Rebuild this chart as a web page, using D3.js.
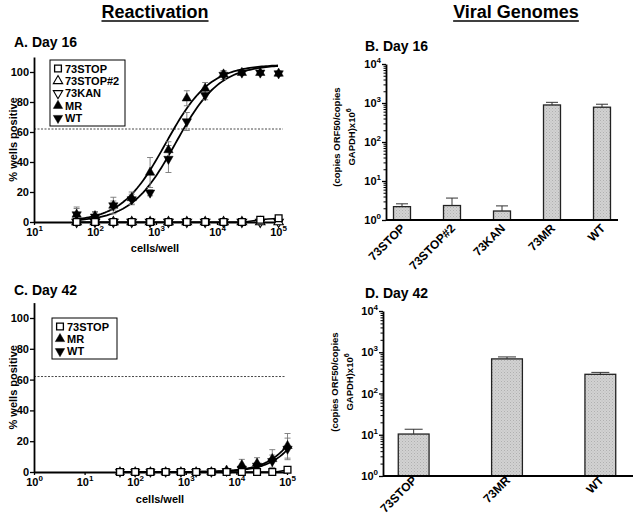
<!DOCTYPE html>
<html><head><meta charset="utf-8">
<script src="https://cdn.jsdelivr.net/npm/d3@7"></script>
<style>body{margin:0;background:#fff}svg{display:block}</style></head>
<body><svg id="c" width="634" height="517"></svg>
<script>
// ---------- data ----------
const cellsPerWell = [50,100,200,400,800,1600,3200,6400,12800,25600,51200,102400];
// Panel A (Day 16 reactivation, % wells positive)
const a73STOP  = [0,0,0,0,0,0,0,0,0,0,1.5,2.5];
const a73STOP2 = [0,0,0,0,0,0,0,0,0,0,0,0];
const a73KAN   = [0,0,0,0,0,0,0,0,0,0,0,0];
const aMR      = [5,4,11,16,33,48,82.5,89,98.5,99.5,99.5,99];
const aMRerr   = [5,3,5.5,4,10,5.5,5,4,2,1,1,1.5];
const aWT      = [5,3.5,11,15,19.5,42,67,84.5,98,99.5,99.5,99];
const aWTerr   = [4,3,3,3.5,2,9,6,3,3,1,1,1.5];
// fitted sigmoid parameters [top, logEC50, hill slope]
const fitA_MR = [105,3.16,1.2];
const fitA_WT = [105,3.32,1.2];
// Panel C (Day 42 reactivation)
const c73STOP = [0,0,0,0,0,0,0,0,0,0,0,1.5];
const cMR     = [0,0,0,0,0,0,0,1,4.5,5.6,8.5,17];
const cMRerr  = [0,0,0,0,0,0,0,1,3.7,3.7,6,8];
const cWT     = [0,0,0,0,0,0,0,0.5,2,4,7,15];
const cWTerr  = [0,0,0,0,0,0,0,0.5,2,2,4,7];
const fitC_MR = [105,5.59,1.2];
const fitC_WT = [105,5.67,1.2];
const thresholdPct = 62;
// Panel B (Day 16 viral genomes)
const bCats = ["73STOP","73STOP#2","73KAN","73MR","WT"];
const bVals = [2.2,2.35,1.7,890,780];
const bErr  = [0.4,1.3,0.6,150,150];
// Panel D (Day 42 viral genomes)
const dCats = ["73STOP","73MR","WT"];
const dVals = [10.4,690,292];
const dErr  = [3.2,80,33];
// ticks
const pctTicks = [0,20,40,60,80,100];
const xTicksA = [10,100,1000,10000,100000];
const xTicksC = [1,10,100,1000,10000,100000];
const yLogTicks = [1,10,100,1000,10000];

// ---------- helpers ----------
const F = "'Liberation Sans', Arial, Helvetica, sans-serif";
const svg = d3.select("#c");
svg.attr("font-family", F);

function sup(textSel) {
  textSel.each(function(d){
    const t = d3.select(this);
    const e = Math.round(Math.log10(d));
    t.text(null);
    t.append("tspan").text("10");
    t.append("tspan").attr("dy",-5).attr("font-size",8).text(e);
  });
}
function styleAxis(g){
  g.select(".domain").attr("stroke","#000").attr("stroke-width",1.8);
  g.selectAll(".tick line").attr("stroke","#000").attr("stroke-width",1.3);
  g.selectAll(".tick text").attr("fill","#000").attr("font-weight","bold").attr("font-size",11).attr("font-family",F);
}
const triUp = d3.symbol().type(d3.symbolTriangle).size(38);
const square = d3.symbol().type(d3.symbolSquare).size(46);
function marker(g, kind, x, y){
  if (kind==="sq") return g.append("path").attr("d",square()).attr("fill","#fff").attr("stroke","#000").attr("stroke-width",1.3).attr("transform",`translate(${x},${y})`);
  const filled = kind==="up"||kind==="down";
  const rot = (kind==="down"||kind==="odown")?180:0;
  return g.append("path").attr("d",triUp()).attr("fill",filled?"#000":"#fff").attr("stroke","#000").attr("stroke-width",filled?0.5:1.1)
    .attr("transform",`translate(${x},${y}) rotate(${rot})`);
}
function sigmoid(p, lx){ return p[0]/(1+Math.pow(10,(p[1]-lx)*p[2])); }

function linePanel(o){
  const x = d3.scaleLog().domain(o.xDom).range(o.xRange);
  const y = d3.scaleLinear().domain([0,110]).range(o.yRange);
  const g = svg.append("g");
  g.append("line").attr("x1",o.xRange[0]).attr("x2",o.threshEnd).attr("y1",y(thresholdPct)).attr("y2",y(thresholdPct))
    .attr("stroke","#333").attr("stroke-width",0.9).attr("stroke-dasharray","2,1.5");
  const ya = g.append("g").attr("transform",`translate(${o.xRange[0]},0)`)
    .call(d3.axisLeft(y).tickValues(pctTicks).tickSize(4).tickSizeOuter(0).tickPadding(1));
  styleAxis(ya);
  const xa = g.append("g").attr("transform",`translate(0,${o.yRange[0]})`)
    .call(d3.axisBottom(x).tickValues(o.xTicks).tickSize(3).tickSizeOuter(0).tickPadding(3));
  styleAxis(xa);
  xa.selectAll(".tick text").call(sup);
  const lx0 = Math.log10(cellsPerWell[0]), lx1 = 5;
  const samples = d3.range(0,101).map(i=>lx0+(lx1-lx0)*i/100);
  const line = d3.line().x(d=>x(Math.pow(10,d[0]))).y(d=>y(d[1]));
  o.fits.forEach(p=>{
    g.append("path").attr("d",line(samples.map(s=>[s,sigmoid(p,s)]))).attr("fill","none").attr("stroke","#000").attr("stroke-width",1.8);
  });
  const pl = d3.line().x((d,i)=>x(cellsPerWell[i])).y(d=>y(d)).curve(d3.curveMonotoneX);
  g.append("path").attr("d",pl(o.stop)).attr("fill","none").attr("stroke","#000").attr("stroke-width",1.6);
  o.err.forEach(([vals,errs])=>{
    vals.forEach((v,i)=>{
      const e = errs[i]; if(!e) return;
      const cx = x(cellsPerWell[i]);
      const eb = g.append("g").attr("stroke","#777").attr("stroke-width",0.9);
      eb.append("line").attr("x1",cx).attr("x2",cx).attr("y1",y(Math.max(0,v-e))).attr("y2",y(v+e));
      eb.append("line").attr("x1",cx-3).attr("x2",cx+3).attr("y1",y(v+e)).attr("y2",y(v+e));
      if (v-e>0) eb.append("line").attr("x1",cx-3).attr("x2",cx+3).attr("y1",y(v-e)).attr("y2",y(v-e));
    });
  });
  o.series.forEach(([vals,kind])=>{
    vals.forEach((v,i)=>marker(g,kind,x(cellsPerWell[i]),y(v)));
  });
  g.append("text").attr("transform",`translate(${o.yLabelX},${(o.yRange[0]+o.yRange[1])/2}) rotate(-90)`)
    .attr("text-anchor","middle").attr("font-weight","bold").attr("font-size",11).text("% wells positive");
  g.append("text").attr("x",o.xTitleX).attr("y",o.xTitleY).attr("text-anchor","middle").attr("font-weight","bold").attr("font-size",11).text("cells/well");
  const lg = g.append("g");
  lg.append("rect").attr("x",o.leg[0]).attr("y",o.leg[1]).attr("width",o.leg[2]).attr("height",o.leg[3]).attr("fill","#fff").attr("stroke","#000").attr("stroke-width",1);
  o.legItems.forEach((it,i)=>{
    const yy = o.leg[1]+8.5+i*12.4;
    marker(lg,it[1],o.leg[0]+8,yy);
    lg.append("text").attr("x",o.leg[0]+15).attr("y",yy+4).attr("font-weight","bold").attr("font-size",11).text(it[0]);
  });
}

function barPanel(o){
  const x = d3.scaleBand().domain(o.cats).range(o.bandRange).paddingInner(o.pad).paddingOuter(o.pad/2);
  const y = d3.scaleLog().domain([1,10000]).range(o.yRange);
  const g = svg.append("g");
  o.vals.forEach((v,i)=>{
    const c = o.cats[i];
    g.append("rect").attr("x",x(c)).attr("y",y(v)).attr("width",x.bandwidth()).attr("height",y(1)-y(v))
      .attr("fill","url(#hatch)").attr("stroke","#222").attr("stroke-width",1.3);
    const cx = x(c)+x.bandwidth()/2, top = y(v+o.err[i]);
    g.append("line").attr("x1",cx).attr("x2",cx).attr("y1",y(v)).attr("y2",top).attr("stroke","#333").attr("stroke-width",1);
    g.append("line").attr("x1",cx-o.cap).attr("x2",cx+o.cap).attr("y1",top).attr("y2",top).attr("stroke","#333").attr("stroke-width",1);
  });
  const minors = [];
  for (let d=0; d<4; d++) for (let k=2;k<10;k++) minors.push(k*Math.pow(10,d));
  g.append("g").attr("transform",`translate(${o.axisX},0)`)
    .call(d3.axisLeft(y).tickValues(minors).tickSize(2.5).tickFormat(""))
    .call(s=>{s.select(".domain").remove(); s.selectAll(".tick line").attr("stroke","#000").attr("stroke-width",1);});
  const ya = g.append("g").attr("transform",`translate(${o.axisX},0)`)
    .call(d3.axisLeft(y).tickValues(yLogTicks).tickSize(4).tickSizeOuter(0).tickPadding(1));
  styleAxis(ya);
  ya.selectAll(".tick text").call(sup);
  g.append("line").attr("x1",o.axisX).attr("x2",o.xEnd).attr("y1",o.yRange[0]).attr("y2",o.yRange[0]).attr("stroke","#000").attr("stroke-width",1.8);
  o.cats.forEach(c=>{
    const cx = x(c)+x.bandwidth()/2;
    g.append("text").attr("transform",`translate(${cx+4},${o.yRange[0]+o.labOff}) rotate(-45)`)
      .attr("text-anchor","end").attr("font-weight","bold").attr("font-size",12).text(c);
  });
  const yt = g.append("text").attr("transform",`translate(${o.yTitleX},${o.yTitleY}) rotate(-90)`)
    .attr("text-anchor","middle").attr("font-weight","bold").attr("font-size",9.5);
  yt.append("tspan").attr("x",0).attr("dy",0).text("(copies ORF50/copies");
  const l2 = yt.append("tspan").attr("x",0).attr("dy",15);
  l2.append("tspan").text("GAPDH)x10");
  l2.append("tspan").attr("dy",-4).attr("font-size",7).text("6");
}

const defs = svg.append("defs");
const pat = defs.append("pattern").attr("id","hatch").attr("patternUnits","userSpaceOnUse").attr("width",3).attr("height",3);
pat.append("rect").attr("width",3).attr("height",3).attr("fill","#d2d2d2");
pat.append("rect").attr("x",0).attr("y",0).attr("width",1).attr("height",1).attr("fill","#b0b0b0");
pat.append("rect").attr("x",1.5).attr("y",1.5).attr("width",1).attr("height",1).attr("fill","#bcbcbc");

function heading(txt,cx){
  const t = svg.append("text").attr("x",cx).attr("y",18).attr("text-anchor","middle").attr("font-weight","bold").attr("font-size",18).text(txt);
  const w = t.node().getComputedTextLength();
  svg.append("line").attr("x1",cx-w/2).attr("x2",cx+w/2).attr("y1",21).attr("y2",21).attr("stroke","#000").attr("stroke-width",1.3);
}
heading("Reactivation",155);
heading("Viral Genomes",516);
[["A. Day 16",14,47],["B. Day 16",365,51],["C. Day 42",14,295],["D. Day 42",365,298]].forEach(d=>{
  svg.append("text").attr("x",d[1]).attr("y",d[2]).attr("font-weight","bold").attr("font-size",14).text(d[0]);
});

linePanel({
  xDom:[10,100000], xRange:[34,278], yRange:[222,57], xTicks:xTicksA, threshEnd:283,
  fits:[fitA_MR,fitA_WT], stop:a73STOP,
  err:[[aMR,aMRerr],[aWT,aWTerr]],
  series:[[a73KAN,"odown"],[a73STOP2,"oup"],[aWT,"down"],[aMR,"up"],[a73STOP,"sq"]],
  yLabelX:17, xTitleX:155, xTitleY:252,
  leg:[50,60,75,66],
  legItems:[["73STOP","sq"],["73STOP#2","oup"],["73KAN","odown"],["MR","up"],["WT","down"]]
});
linePanel({
  xDom:[1,100000], xRange:[34,287], yRange:[472,302.6], xTicks:xTicksC, threshEnd:286,
  fits:[fitC_MR,fitC_WT], stop:c73STOP,
  err:[[cMR,cMRerr],[cWT,cWTerr]],
  series:[[cWT,"down"],[cMR,"up"],[c73STOP,"sq"]],
  yLabelX:17, xTitleX:160, xTitleY:503,
  leg:[52,318,65,41],
  legItems:[["73STOP","sq"],["MR","up"],["WT","down"]]
});
barPanel({cats:bCats, vals:bVals, err:bErr, bandRange:[377,627], pad:0.66, yRange:[220,64],
  axisX:386, xEnd:618, cap:6, yTitleX:340, yTitleY:137, labOff:9});
barPanel({cats:dCats, vals:dVals, err:dErr, bandRange:[367,647], pad:0.67, yRange:[476,311],
  axisX:383, xEnd:633, cap:9, yTitleX:338, yTitleY:382, labOff:5});
</script></body></html>
